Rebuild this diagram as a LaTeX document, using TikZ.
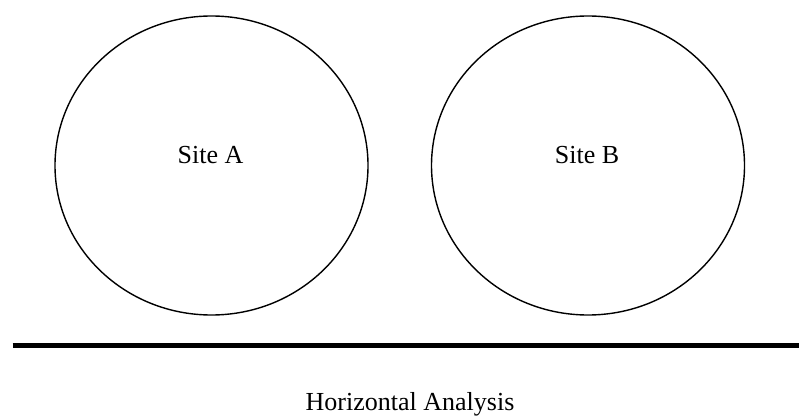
\documentclass[tikz,border=0pt]{standalone}
\usepackage{fontspec}
\setmainfont{Liberation Serif}
\usetikzlibrary{shapes.geometric}
\begin{document}
\begin{tikzpicture}[x=1pt,y=1pt,
  site/.style={draw=black, line width=1.4pt, ellipse, inner sep=0pt, minimum width=313pt, minimum height=299pt},
  lbl/.style={font=\fontsize{26}{30}\selectfont, anchor=base, inner sep=0pt},
  ground/.style={line width=5.5pt, black}]
\useasboundingbox (0,0) rectangle (799,415);
\node[site] (siteA) at (211.5,249.5) {};
\node[site] (siteB) at (588,249.5) {};
\node[lbl] (labelA) at (210.5,251) {Site A};
\node[lbl] (labelB) at (587,251.5) {Site B};
\coordinate (gl) at (12.7,69.3);
\coordinate (gr) at (799,69.3);
\draw[ground] (gl) -- (gr);
\node[lbl] (axis) at (410,5) {Horizontal Analysis};
\end{tikzpicture}
\end{document}
